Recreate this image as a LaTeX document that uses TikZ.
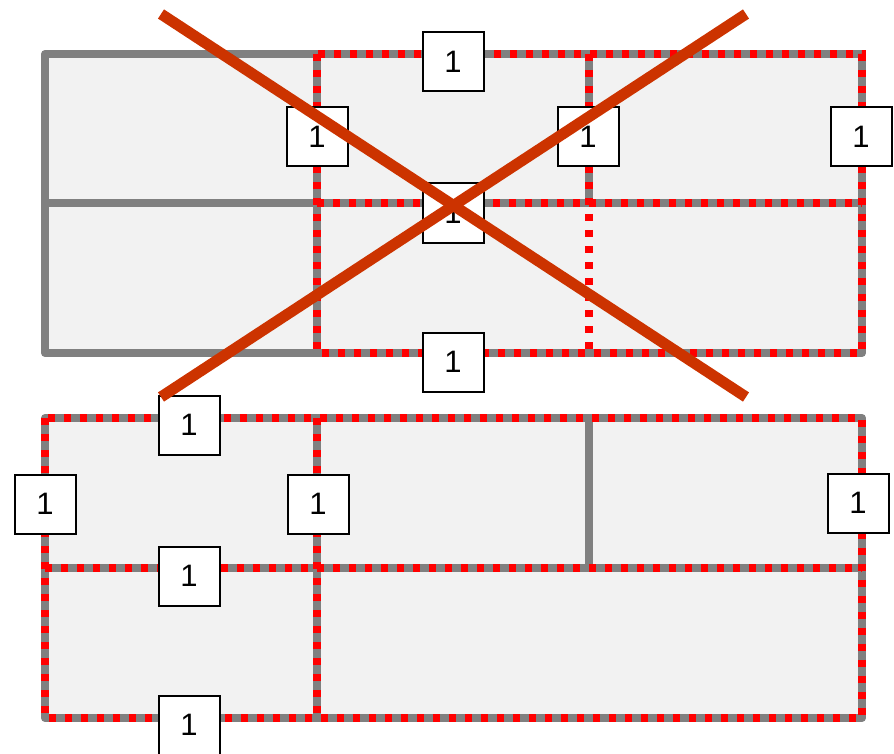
\documentclass[tikz,border=0pt]{standalone}
\usepackage{fontspec}
\setmainfont{Liberation Sans}
\usetikzlibrary{positioning}
\definecolor{GridGray}{HTML}{808080}
\definecolor{CellFill}{HTML}{F2F2F2}
\definecolor{CutRed}{HTML}{FF0000}
\definecolor{CrossRed}{HTML}{CC3300}

\begin{document}
\begin{tikzpicture}[x=1pt,y=-1pt]
  \tikzstyle{wall}=[draw=GridGray,line width=8pt,line join=round]
  \tikzstyle{cutline}=[draw=CutRed,line width=7.5pt,dash pattern=on 7pt off 9pt]
  \tikzstyle{weight}=[draw=black,fill=white,line width=2pt,
    minimum width=61pt,minimum height=59pt,inner sep=0pt,
    font=\fontsize{31}{33}\selectfont]
  \tikzstyle{crossline}=[draw=CrossRed,line width=11pt]
  \useasboundingbox (0,0) rectangle (894,754);
  % upper grid
  \fill[CellFill] (45,54) rectangle (862,353);
  \draw[wall] (45,54) rectangle (862,353);
  \draw[wall] (45,203) -- (862,203);
  \draw[wall] (317,54) -- (317,353);
  \draw[wall] (589,54) -- (589,203);
  \draw[cutline] (317,54) rectangle (862,353);
  \draw[cutline] (317,203) -- (862,203);
  \draw[cutline] (589,54) -- (589,353);
  % lower grid
  \fill[CellFill] (45,418) rectangle (862,718);
  \draw[wall] (45,418) rectangle (862,718);
  \draw[wall] (45,568) -- (862,568);
  \draw[wall] (317,418) -- (317,718);
  \draw[wall] (589,418) -- (589,568);
  \draw[cutline] (45,418) rectangle (862,718);
  \draw[cutline] (45,568) -- (862,568);
  \draw[cutline] (317,418) -- (317,718);
  % edge weights, upper grid
  \node[weight] (ut) at (453,62) {1};
  \node[weight] (ul) at (317,137) {1};
  \node[weight] (um) at (588,137) {1};
  \node[weight] (ur) at (861,137) {1};
  \node[weight] (uc) at (453,213) {1};
  \node[weight] (ub) at (453,362) {1};
  % edge weights, lower grid
  \node[weight] (lt) at (189,425) {1};
  \node[weight] (ll) at (45,504) {1};
  \node[weight] (lm) at (318,504) {1};
  \node[weight] (lr) at (858,503) {1};
  \node[weight] (lc) at (189,576) {1};
  \node[weight] (lb) at (189,725) {1};
  % the cross over the upper grid
  \coordinate (xa) at (161,14);
  \coordinate (xb) at (746,397);
  \coordinate (xc) at (161,397);
  \coordinate (xd) at (746,14);
  \draw[crossline] (xa) -- (xb);
  \draw[crossline] (xc) -- (xd);
\end{tikzpicture}
\end{document}
